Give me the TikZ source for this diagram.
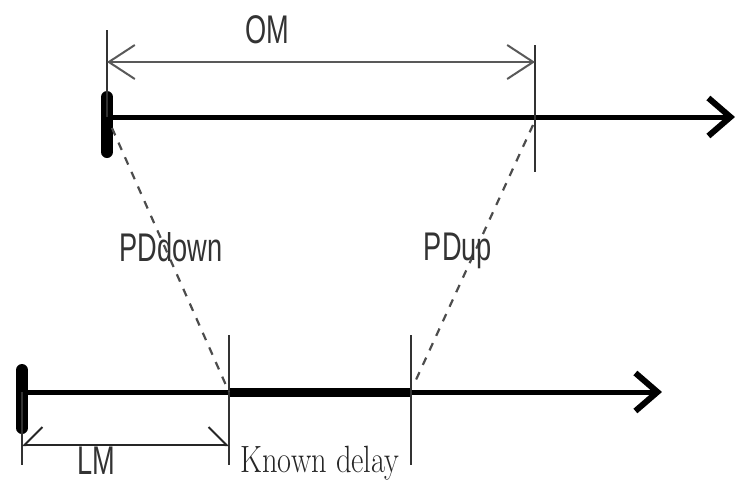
\documentclass[tikz,border=0pt]{standalone}
\usepackage{fontspec}
\newfontfamily\lblfont{Liberation Sans}
\usetikzlibrary{arrows.meta}

\begin{document}
\begin{tikzpicture}[x=0.5pt, y=-0.5pt,
    axis/.style={line width=2.5pt, -{Straight Barb[length=11pt,width=19pt,line width=3pt]}},
    endbar/.style={line width=6pt, line cap=round},
    delayseg/.style={line width=4.5pt},
    tick/.style={line width=1.1pt, draw=black!80},
    dimline/.style={line width=1pt, draw=black!65},
    pdline/.style={line width=1.1pt, draw=black!70, dash pattern=on 4pt off 4pt},
    lbl/.style={font=\lblfont\fontsize{20}{24}\selectfont, text=black!80, inner sep=0pt, anchor=base, xscale=.68, transform shape},
    kdlbl/.style={font=\fontsize{19}{23}\selectfont, text=black!85, inner sep=0pt, anchor=base, xscale=.8, transform shape}]
  \useasboundingbox (0,0) rectangle (736,483);

  % Punkte oben (OM)
  \coordinate (t0) at (107,117);  \coordinate (t1) at (735,117);
  \coordinate (tR) at (535,117);
  \coordinate (tLtop) at (107,30); \coordinate (tRtop) at (535,45);
  \coordinate (tRbot) at (535,172);
  \coordinate (om0) at (107,62);  \coordinate (om1) at (535,62);

  % Punkte unten (LM)
  \coordinate (b0) at (22,392);   \coordinate (b1) at (662,392);
  \coordinate (bA) at (229,392);  \coordinate (bB) at (411,392);
  \coordinate (bAtop) at (229,335); \coordinate (bAbot) at (229,465);
  \coordinate (bBtop) at (411,335); \coordinate (bBbot) at (411,465);
  \coordinate (lm0) at (22,445);  \coordinate (lm1) at (229,445);
  \coordinate (b0bot) at (22,465);

  % Zeitachsen
  \draw[axis] (t0) -- (t1);
  \draw[axis] (b0) -- (b1);
  \draw[delayseg] (bA) -- (bB);
  \draw[endbar] (107,97) -- (107,152);
  \draw[endbar] (22,370) -- (22,428);

  % Markierungen
  \draw[tick] (tLtop) -- (t0);
  \draw[tick] (tRtop) -- (tRbot);
  \draw[tick] (bAtop) -- (bAbot);
  \draw[tick] (bBtop) -- (bBbot);
  \draw[tick] (b0) -- (b0bot);

  % Masspfeile
  \draw[dimline, {Straight Barb[length=13pt,width=17pt]}-{Straight Barb[length=13pt,width=17pt]}] (om0) -- (om1);
  \draw[dimline, draw=black!85, {Straight Barb[harpoon,swap,length=9pt,width=18pt]}-{Straight Barb[harpoon,length=9pt,width=18pt]}] (lm0) -- (lm1);

  % Laufzeiten
  \draw[pdline] (112,128) -- (bA);
  \draw[pdline] (533,125) -- (415,382);

  % Beschriftungen
  \node[lbl] (om) at (267,43) {OM};
  \node[lbl] (pdd) at (171,261) {PDdown};
  \node[lbl] (pdu) at (458,260) {PDup};
  \node[lbl] (lm) at (96,474) {LM};
  \node[kdlbl] (kd) at (320,472) {Known delay};
\end{tikzpicture}
\end{document}
